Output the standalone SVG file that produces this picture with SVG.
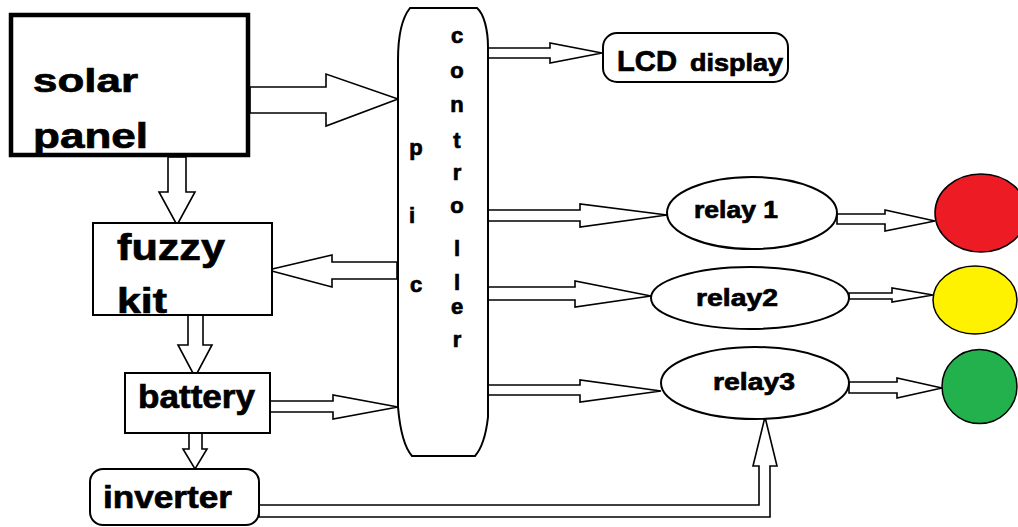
<svg xmlns="http://www.w3.org/2000/svg" width="1018" height="527" viewBox="0 0 1018 527">
<style>
.t{font-family:"Liberation Sans",Arial,sans-serif;font-weight:bold;fill:#000;stroke:#000;stroke-width:0.7}
.box{fill:#fff;stroke:#000;stroke-width:2}
.ar{fill:#fff;stroke:#000;stroke-width:1.6;stroke-linejoin:miter}
.v{font-size:22px;text-anchor:middle}
</style>
<rect width="1018" height="527" fill="#fff"/>
<g id="connectors">
<polygon class="ar" points="250,87 326,87 326,74 398,99 326,126 326,113 250,113"/>
<polygon class="ar" points="168,157 186,157 186,192 195,192 177,225 159,192 168,192"/>
<polygon class="ar" points="397,262 332,262 332,255 268,270 332,287 332,279 397,279"/>
<polygon class="ar" points="188,315 203,315 203,345 212,345 195,377 178,345 188,345"/>
<polygon class="ar" points="270,401 333,401 333,395 398,407 333,419 333,412 270,412"/>
<polygon class="ar" points="189,433 202,433 202,449 207,449 195,469 183,449 189,449"/>
<polygon class="ar" points="488,48 550,48 550,43 602,53 550,63 550,58 488,58"/>
<polygon class="ar" points="488,210 580,210 580,204 667,215 580,227 580,221 488,221"/>
<polygon class="ar" points="488,287 575,287 575,281 651,296 575,307 575,300 488,300"/>
<polygon class="ar" points="488,385 580,385 580,380 661,391 580,402 580,395 488,395"/>
<polygon class="ar" points="837,214 885,214 885,210 935,221 885,231 885,224 837,224"/>
<polygon class="ar" points="849,293 892,293 892,288 933,295 892,302 892,299 849,299"/>
<polygon class="ar" points="849,382 897,382 897,378 942,388 897,398 897,393 849,393"/>
<polygon class="ar" points="259,505 759,505 759,466 753,466 765,417 777,466 770,466 770,517 259,517"/>
</g>
<g id="solar-panel">
<rect x="11" y="15" width="237" height="140" fill="#fff" stroke="#000" stroke-width="4.5"/>
<text class="t" x="33" y="92" font-size="34" textLength="105" lengthAdjust="spacingAndGlyphs">solar</text>
<text class="t" x="33" y="148" font-size="35" textLength="115" lengthAdjust="spacingAndGlyphs">panel</text>
</g>
<g id="controller">
<path class="box" d="M410,8 L477,8 C484,14 488,30 488,47 L488,417 C486,435 482,448 475,456 L412,456 C405,448 400,430 398,407 L398,60 C398,35 402,18 410,8 Z"/>
<text class="t v" x="416" y="155">p</text>
<text class="t v" x="412" y="223">i</text>
<text class="t v" x="416" y="292">c</text>
<text class="t v" x="457" y="43">c</text>
<text class="t v" x="457" y="78">o</text>
<text class="t v" x="457" y="112">n</text>
<text class="t v" x="457" y="148">t</text>
<text class="t v" x="457" y="180">r</text>
<text class="t v" x="457" y="213">o</text>
<text class="t v" x="457" y="256">l</text>
<text class="t v" x="457" y="290">l</text>
<text class="t v" x="457" y="314">e</text>
<text class="t v" x="457" y="347">r</text>
</g>
<g id="lcd-display">
<rect class="box" x="603" y="33" width="185" height="49" rx="14"/>
<text class="t" x="617" y="71" font-size="30" textLength="60" lengthAdjust="spacingAndGlyphs">LCD</text>
<text class="t" x="690" y="71" font-size="24" textLength="93" lengthAdjust="spacingAndGlyphs">display</text>
</g>
<g id="fuzzy-kit">
<rect class="box" x="93" y="223" width="179" height="92"/>
<text class="t" x="117" y="260" font-size="36" textLength="108" lengthAdjust="spacingAndGlyphs">fuzzy</text>
<text class="t" x="117" y="313" font-size="35" textLength="50" lengthAdjust="spacingAndGlyphs">kit</text>
</g>
<g id="battery">
<rect class="box" x="125" y="373" width="145" height="60"/>
<text class="t" x="138" y="408" font-size="33" textLength="117" lengthAdjust="spacingAndGlyphs">battery</text>
</g>
<g id="inverter">
<rect class="box" x="90" y="469" width="169" height="56" rx="13"/>
<text class="t" x="103" y="508" font-size="31" textLength="129" lengthAdjust="spacingAndGlyphs">inverter</text>
</g>
<g id="relay1">
<ellipse class="box" cx="752" cy="213" rx="85" ry="36"/>
<text class="t" x="694" y="218" font-size="23" textLength="84" lengthAdjust="spacingAndGlyphs">relay 1</text>
</g>
<g id="relay2">
<ellipse class="box" cx="750" cy="298" rx="99" ry="31"/>
<text class="t" x="696" y="306" font-size="23" textLength="82" lengthAdjust="spacingAndGlyphs">relay2</text>
</g>
<g id="relay3">
<ellipse class="box" cx="755" cy="383" rx="94" ry="36"/>
<text class="t" x="713" y="390" font-size="23" textLength="82" lengthAdjust="spacingAndGlyphs">relay3</text>
</g>
<g id="red-lamp">
<ellipse cx="981" cy="213" rx="46" ry="39" fill="#ed1c24" stroke="#000" stroke-width="1.5"/>
</g>
<g id="yellow-lamp">
<ellipse cx="975" cy="300" rx="42" ry="34" fill="#fff200" stroke="#000" stroke-width="1.5"/>
</g>
<g id="green-lamp">
<ellipse cx="979.5" cy="386.5" rx="37.5" ry="37" fill="#22b14c" stroke="#000" stroke-width="1.5"/>
</g>
</svg>
